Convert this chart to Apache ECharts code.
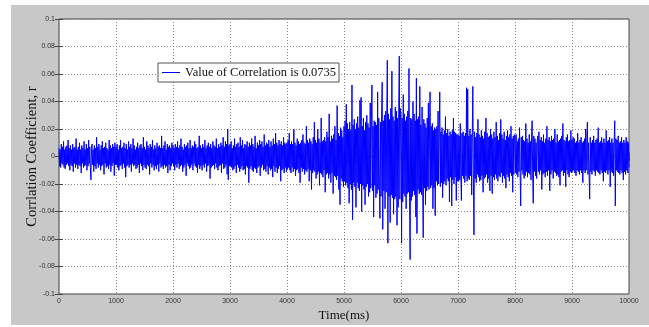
<!DOCTYPE html>
<html>
<head>
<meta charset="utf-8">
<script src="https://cdn.jsdelivr.net/npm/echarts@6/dist/echarts.min.js"></script>
<style>
  body { margin: 0; background: #fff; }
  #frame { position: absolute; left: 11px; top: 5px; width: 638px; height: 320px; background: #c8c8c8; }
  #main { position: absolute; left: 0; top: 0; width: 649px; height: 327px; }
</style>
</head>
<body>
<div id="frame"></div>
<div id="main"></div>
<script>
  // correlation r in thousandths (x 0.001), one sample every 10 ms, one array per second
  var sec0 = [6,-7,5,-8,9,-5,7,-6,11,-8, 5,-9,7,-6,8,-5,12,-7,6,-10, 8,-6,5,-7,9,-11,6,-5,7,-8, 13,-6,5,-9,7,-6,10,-7,5,-12, 8,-5,6,-8,11,-7,5,-6,9,-10,
              6,-7,12,-5,7,-8,-17,6,9,-6, 5,-11,8,-7,6,-9,14,-5,7,-8, 9,-6,5,-10,8,-7,11,-6,6,-13, 7,-5,10,-8,6,-7,5,-9,12,-6, 8,-11,6,-7,9,-5,7,-14,10,-6];
  var sec1 = [7,-6,9,-8,5,-10,8,-7,12,-6, 6,-9,7,-5,10,-8,6,-15,9,-7, 5,-6,11,-8,7,-6,9,-11,6,-5, 13,-7,8,-6,5,-9,7,-8,10,-6, 6,-12,8,-5,9,-7,6,-10,14,-6,
              7,-8,5,-9,11,-6,8,-7,6,-13, 9,-5,7,-8,12,-6,5,-10,8,-7, 6,-9,10,-6,7,-11,8,-5,6,-8, 15,-7,6,-9,8,-6,11,-8,5,-7, 9,-12,7,-6,8,-10,6,-7,10,-5];
  var sec2 = [8,-7,6,-10,9,-6,7,-8,11,-5, 6,-9,8,-7,13,-6,7,-11,5,-8, 9,-6,7,-14,8,-5,10,-7,6,-9, 12,-8,6,-6,8,-10,7,-5,11,-7, 9,-8,6,-12,7,-6,15,-9,8,-7,
              6,-10,9,-6,7,-8,12,-5,6,-11, 8,-7,10,-6,7,-16,9,-8,6,-7, 11,-6,8,-9,7,-5,13,-8,6,-10, 9,-7,7,-6,10,-12,8,-5,14,-9, 7,-8,11,-6,9,-13,20,-17,8,-7];
  var sec3 = [9,-7,11,-8,6,-10,8,-9,13,-7, 7,-12,9,-6,10,-8,7,-11,14,-9, 8,-7,12,-10,6,-9,9,-13,8,-7, 11,-8,7,-19,10,-9,8,-7,13,-10, 9,-11,7,-8,15,-9,6,-12,10,-8,
              8,-7,12,-14,9,-8,11,-6,7,-10, 16,-9,8,-11,10,-7,9,-13,12,-8, 7,-10,11,-9,8,-15,13,-7,9,-11, 17,-8,10,-12,8,-9,12,-7,9,-18, 11,-10,8,-9,14,-12,10,-8,9,-11];
  var sec4 = [10,-9,12,-8,17,-10,9,-12,11,-8, 9,-11,20,-9,10,-14,8,-10,13,-9, 11,-12,9,-19,10,-8,12,-11,16,-9, 10,-13,9,-10,22,-11,12,-9,10,-18, 13,-10,11,-24,9,-12,14,-10,25,-11,
              12,-16,10,-13,20,-11,13,-21,10,-12, 28,-13,11,-15,12,-10,14,-26,11,-13, 18,-12,14,-16,31,-13,11,-19,15,-12, 13,-27,16,-14,22,-15,12,-17,37,-14, 17,-24,15,-35,21,-16,19,-18,14,-22];
  var sec5 = [22,-18,26,-21,38,-19,24,-23,20,-34, 25,-20,19,-24,52,-46,23,-19,27,-22, 20,-37,24,-19,29,-23,21,-25,41,-20, 43,-40,22,-21,28,-24,19,-35,25,-22, 30,-20,24,-29,21,-26,39,-23,27,52,
              -25,22,-44,26,-21,25,-30,23,-27,47, -24,28,-22,-45,25,-29,31,54,-53,26, -25,30,-38,33,-26,28,70,-63,31,-29, 27,-48,35,-28,62,-30,29,-42,26,-31, 36,-29,33,-50,28,-37,34,73,-31,35];
  var sec6 = [30,-63,28,-33,45,-27,31,-29,26,-38, 29,-27,33,-26,64,-30,-75,28,-32,27, -29,40,-25,31,-28,26,-44,57,-56,27, -24,29,-27,51,-26,23,-28,36,-22,-59, 27,-23,24,-35,21,-25,28,-22,39,-24,
              20,47,-23,22,-21,24,-38,19,-23,21, -43,20,-18,22,-21,33,-20,17,47,-22, 18,-19,21,-30,16,-20,19,-18,29,-21, 17,-16,20,-18,15,-33,18,-15,16,-36, 19,-17,28,-20,18,-15,17,-32,16,-18];
  var sec7 = [16,-18,15,-17,24,-15,-32,17,-14,18, -16,15,-19,17,-14,50,-18,49,-16,15, -17,20,-14,16,-28,14,51,-15,-57,18, -16,14,-19,17,-13,27,-15,16,-18,14, -17,19,-14,15,-26,13,-16,18,-15,28,
              -13,17,-19,14,-16,15,-25,20,-14,16, -27,13,-15,18,-17,14,-13,25,-16,15, -18,12,-14,17,-15,27,-12,16,-19,13, -14,18,-16,12,-23,15,-13,19,-15,14, -18,16,-12,22,-14,13,-26,15,-13,16];
  var sec8 = [14,-12,16,-13,11,-15,13,-11,21,-12, -36,14,-10,15,-13,12,-16,11,-14,24, -11,13,-15,10,-12,16,-13,11,-17,14, 26,-12,-34,15,-11,13,-14,10,-16,12, 15,-11,18,-13,12,-10,14,-24,11,-13,
              16,-12,10,-15,13,-11,22,-14,12,-10, 14,-25,11,-13,15,-10,12,-16,13,-11, 20,-12,10,-14,16,-13,11,-15,12,-21, 13,-11,15,-10,24,-14,12,-12,11,-22, 14,-10,16,-13,11,-15,12,-11,19,-12];
  var sec9 = [12,-11,14,-10,13,-12,10,-14,11,-10, 17,-11,10,-13,12,-10,14,-12,10,-19, 11,-10,13,-12,20,-10,11,25,-13,10, -12,-31,14,-11,10,-13,12,-10,15,-11, 10,-14,12,-10,13,-11,21,-12,10,-13,
              11,-10,14,-12,10,-18,13,-11,10,-12, 19,-10,11,-13,12,-10,14,-22,10,-11, 13,-12,10,-14,11,26,-36,13,-10,12, -11,15,-12,10,-13,11,-10,14,-12,10, -17,12,-11,10,-13,14,-10,11,-12,10, -8];

  var stepMs = 10;
  var seriesName = 'Value of Correlation is 0.0735';

  var milli = [].concat(sec0, sec1, sec2, sec3, sec4, sec5, sec6, sec7, sec8, sec9);
  var points = milli.map(function (v, i) { return [i * stepMs, v / 1000]; });

  var tickFont = { fontFamily: 'Liberation Sans', fontSize: 7, color: '#333' };
  var gridDots = { show: true, lineStyle: { color: '#888', width: 1, type: [1, 2] } };
  var tickIn = { show: true, inside: true, length: 4, lineStyle: { color: '#444' } };

  var chart = echarts.init(document.getElementById('main'));
  chart.setOption({
    animation: false,
    grid: {
      left: 59, top: 19, width: 570, height: 278,
      show: true, backgroundColor: '#fff', borderColor: '#444', borderWidth: 1
    },
    legend: {
      data: [seriesName],
      left: 158, top: 63,
      padding: [3, 3, 3, 4],
      backgroundColor: '#fff', borderColor: '#555', borderWidth: 1,
      icon: 'rect', itemWidth: 18, itemHeight: 1,
      textStyle: { fontFamily: 'Liberation Serif', fontSize: 12.5, color: '#111' }
    },
    xAxis: [{
      type: 'value', min: 0, max: 10000, interval: 1000,
      name: 'Time(ms)', nameLocation: 'middle', nameGap: 15, nameMoveOverlap: false,
      nameTextStyle: { fontFamily: 'Liberation Serif', fontSize: 13, color: '#111' },
      axisLine: { show: false }, axisTick: tickIn,
      axisLabel: Object.assign({ margin: 4, formatter: function (v) { return String(v); } }, tickFont),
      splitLine: gridDots
    }, {
      type: 'value', position: 'top', min: 0, max: 10000, interval: 1000,
      axisLine: { show: false }, axisTick: tickIn, axisLabel: { show: false }, splitLine: { show: false }
    }],
    yAxis: [{
      type: 'value', min: -0.1, max: 0.1, interval: 0.02,
      name: 'Corrlation Coefficient, r', nameLocation: 'middle', nameGap: 19, nameMoveOverlap: false,
      nameTextStyle: { fontFamily: 'Liberation Serif', fontSize: 14.5, color: '#111' },
      axisLine: { show: false }, axisTick: tickIn,
      axisLabel: Object.assign({ margin: 4, formatter: function (v) { return String(Number(v.toFixed(2))); } }, tickFont),
      splitLine: gridDots
    }, {
      type: 'value', position: 'right', min: -0.1, max: 0.1, interval: 0.02,
      axisLine: { show: false }, axisTick: tickIn, axisLabel: { show: false }, splitLine: { show: false }
    }],
    series: [{
      name: seriesName,
      type: 'line',
      data: points,
      showSymbol: false,
      symbol: 'none',
      color: '#0000ff',
      lineStyle: { color: '#0000ff', width: 1 }
    }]
  });
</script>
</body>
</html>
